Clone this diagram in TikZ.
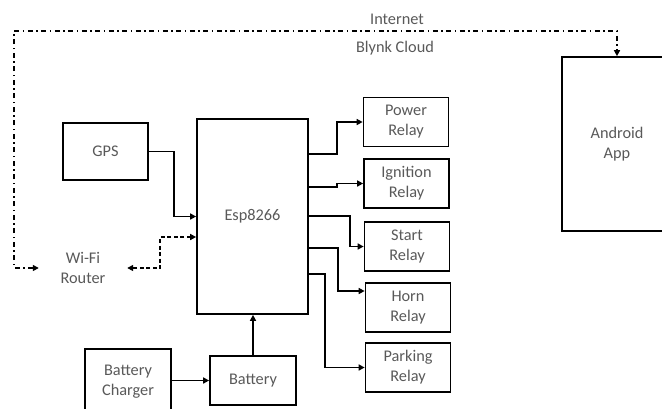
\documentclass[tikz,border=0pt]{standalone}
\usepackage{fontspec}
\setmainfont{Carlito}
\usetikzlibrary{arrows.meta,calc}
\definecolor{txt}{HTML}{595959}
\begin{document}
\begin{tikzpicture}[x=1pt,y=-1pt,
  lbl/.style={text=txt, align=center, inner sep=0pt, font=\fontsize{16.3}{20}\selectfont},
  box/.style={lbl, draw=black, line width=1.7pt},
  relay/.style={box, minimum width=85pt, minimum height=49pt},
  tip/.style={-{Triangle[length=6pt,width=6pt]}},
  conn/.style={tip, line width=1.7pt},
  dsh/.style={{Triangle[length=6pt,width=6pt]}-{Triangle[length=6pt,width=6pt]}, line width=1.7pt, dash pattern=on 4pt off 2.5pt},
  dd/.style={{Triangle[length=6pt,width=6pt]}-{Triangle[length=6pt,width=6pt]}, line width=1.7pt, dash pattern=on 5pt off 3.5pt on 1.5pt off 3.5pt}]
\useasboundingbox (0,0) rectangle (662,408);

\node[box, minimum width=85pt, minimum height=57pt] (gps) at (105.5,151.5) {GPS};
\node[box, minimum width=111pt, minimum height=195pt] (esp) at (252.5,216.5) {Esp8266};
\node[box, minimum width=110pt, minimum height=174pt] (app) at (617,144) {Android\\App};
\node[box, minimum width=86pt, minimum height=49pt] (battery) at (253,380.5) {Battery};
\node[box, minimum width=86pt, minimum height=66pt] (charger) at (128,382) {Battery\\Charger};

\node[relay] (power) at (406,122) {Power\\Relay};
\node[relay] (ignition) at (406.5,183.5) {Ignition\\Relay};
\node[relay] (start) at (407,246.5) {Start\\Relay};
\node[relay] (horn) at (408,307.5) {Horn\\Relay};
\node[relay] (parking) at (408,367.5) {Parking\\Relay};

\node[lbl, minimum width=88pt] (wifi) at (83,268) {Wi-Fi\\Router};
\node[lbl] (internet) at (397,19) {Internet};
\node[lbl] (blynk) at (395,48) {Blynk Cloud};
\coordinate (cloudy) at (14,31);

\draw[conn] (gps.east) -- ++(25,0) |- (esp.west);
\draw[conn] (battery.north) -- (battery.north |- esp.south);
\draw[conn] (charger.east |- battery.west) -- (battery.west);

\draw[conn] ($(esp.north east)+(0,36)$) -- ++(28,0) |- (power.west);
\draw[conn] ($(esp.north east)+(0,69)$) -- ++(28,0) |- (ignition.west);
\draw[conn] ($(esp.north east)+(0,98)$) -- ++(41,0) |- (start.west);
\draw[conn] ($(esp.north east)+(0,130)$) -- ++(29,0) |- ([yshift=16.5pt]horn.west);
\draw[conn] ($(esp.north east)+(0,156)$) -- ++(16,0) |- (parking.west);

\draw[dsh] ([yshift=-20.5pt]esp.west) -- ++(-36,0) |- (wifi.east);
\draw[dd] (wifi.west) -| (cloudy) -| (app.north);
\end{tikzpicture}
\end{document}
